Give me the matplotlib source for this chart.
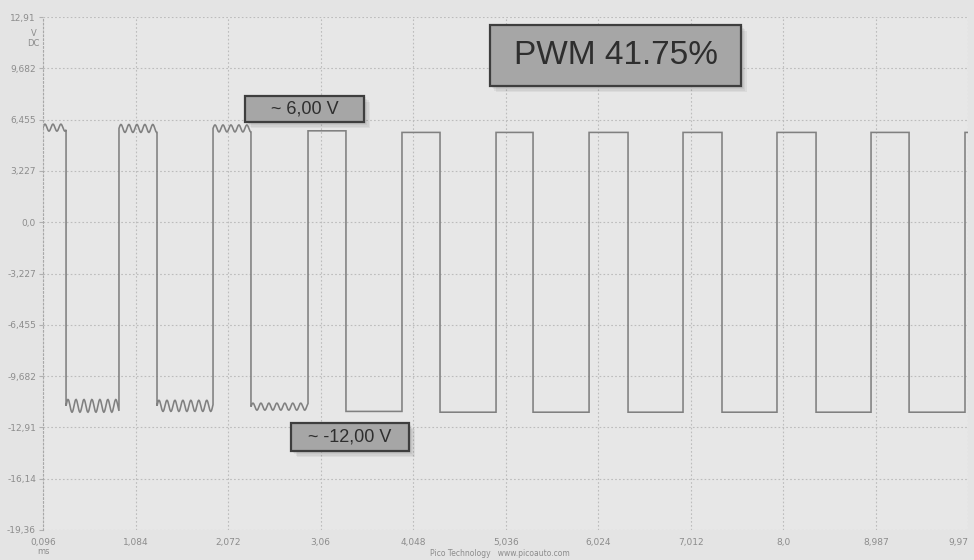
import numpy as np
import matplotlib
matplotlib.use("Agg")
import matplotlib.pyplot as plt
from matplotlib.patches import Rectangle

# ---- data ----
x_ticks = [0.096, 1.084, 2.072, 3.06, 4.048, 5.036, 6.024, 7.012, 8.0, 8.987, 9.97]
x_labels = ["0,096", "1,084", "2,072", "3,06", "4,048", "5,036", "6,024", "7,012", "8,0", "8,987", "9,97"]
y_ticks = [12.91, 9.682, 6.455, 3.227, 0.0, -3.227, -6.455, -9.682, -12.91, -16.14, -19.36]
y_labels = ["12,91", "9,682", "6,455", "3,227", "0,0", "-3,227", "-6,455", "-9,682", "-12,91", "-16,14", "-19,36"]

# edge times (ms)
fall_times = [0.342, 1.313, 2.316, 3.330, 4.334, 5.327, 6.341, 7.344, 8.348, 9.341]
rise_times = [0.907, 1.911, 2.925, 3.928, 4.932, 5.925, 6.928, 7.931, 8.935, 9.938]
# levels (V) of each high segment (first starts at t0) and each low segment
high_levels = [5.95, 5.90, 5.90, 5.75, 5.65, 5.65, 5.65, 5.65, 5.65, 5.65, 5.65]
low_levels = [-11.55, -11.55, -11.60, -11.90, -11.95, -11.95, -11.95, -11.95, -11.95, -11.95]
# ripple amplitude (V) seen on each segment
high_ripple = [0.22, 0.25, 0.22, 0, 0, 0, 0, 0, 0, 0, 0]
low_ripple = [0.40, 0.35, 0.22, 0, 0, 0, 0, 0, 0, 0]
ripple_period = 0.085  # ms

t_start, t_end = 0.096, 9.97

# ---- build the trace ----
ts, vs = [], []
bounds = [t_start]
for f, r in zip(fall_times, rise_times):
    bounds += [f, r]
bounds.append(t_end)
for i in range(len(bounds) - 1):
    a, b = bounds[i], bounds[i + 1]
    seg = i // 2
    if i % 2 == 0:
        lvl, amp = high_levels[seg], high_ripple[seg]
    else:
        lvl, amp = low_levels[seg], low_ripple[seg]
    t = np.linspace(a, b, max(int((b - a) * 200), 2))
    v = lvl + amp * np.sin(2 * np.pi * (t - a) / ripple_period)
    ts.append(t)
    vs.append(v)
t_all = np.concatenate(ts)
v_all = np.concatenate(vs)

# ---- figure ----
W, H = 974, 560
fig = plt.figure(figsize=(W / 100, H / 100), dpi=100)
fig.patch.set_facecolor("#e4e4e4")
ax = fig.add_axes([43 / W, 1 - 530 / H, (968 - 43) / W, (530 - 17) / H])
ax.set_facecolor("#e7e7e7")
ax.plot(t_all, v_all, color="#808080", lw=1.15, solid_joinstyle="miter")
ax.set_xlim(t_start, t_end)
ax.set_ylim(-19.36, 12.91)
ax.set_xticks(x_ticks)
ax.set_xticklabels(x_labels)
ax.set_yticks(y_ticks)
ax.set_yticklabels(y_labels)
ax.grid(True, color="#bcbcbc", linestyle=(0, (1.5, 2)), lw=0.8)
for s in ax.spines.values():
    s.set_visible(False)
ax.spines["left"].set_visible(True)
ax.spines["left"].set_linestyle((0, (1.5, 2)))
ax.spines["left"].set_color("#a8a8a8")
ax.tick_params(axis="both", length=3, color="#b0b0b0", labelsize=6.5, labelcolor="#8c8c8c")
ax.tick_params(axis="x", length=0, pad=6)
ax.tick_params(axis="y", pad=2)
ax.get_xticklabels()[-1].set_horizontalalignment("right")

fig.text(43 / W, 1 - 552 / H, "ms", fontsize=6, color="#8c8c8c", ha="center", va="center")
fig.text(37 / W, 1 - 33 / H, "V", fontsize=6, color="#8c8c8c", ha="right", va="center")
fig.text(39 / W, 1 - 43 / H, "DC", fontsize=6, color="#8c8c8c", ha="right", va="center")
fig.text(500 / W, 1 - 554 / H, "Pico Technology   www.picoauto.com", fontsize=5.5,
         color="#8c8c8c", ha="center", va="center")


def label_box(x0, y0, x1, y1, text, fs):
    w, h = (x1 - x0) / W, (y1 - y0) / H
    fx, fy = x0 / W, 1 - y1 / H
    for k in range(4, 0, -1):
        fig.patches.append(Rectangle((fx + k * 1.5 / W, fy - k * 1.5 / H), w, h,
                                     transform=fig.transFigure, facecolor="#555555",
                                     alpha=0.08, edgecolor="none", zorder=9))
    fig.patches.append(Rectangle((fx, fy), w, h, transform=fig.transFigure,
                                 facecolor="#a6a6a6", edgecolor="#3e3e3e", lw=1.6, zorder=10))
    fig.text(fx + w / 2, fy + h / 2, text, fontsize=fs, color="#2e2e2e",
             ha="center", va="center", zorder=11, family="Liberation Sans")


label_box(490, 25, 741, 86, "PWM 41.75%", 24)
label_box(245, 96, 364, 122, "~ 6,00 V", 13)
label_box(291, 423, 409, 451, "~ -12,00 V", 13)

fig.savefig("out.png", dpi=100, facecolor=fig.get_facecolor())
